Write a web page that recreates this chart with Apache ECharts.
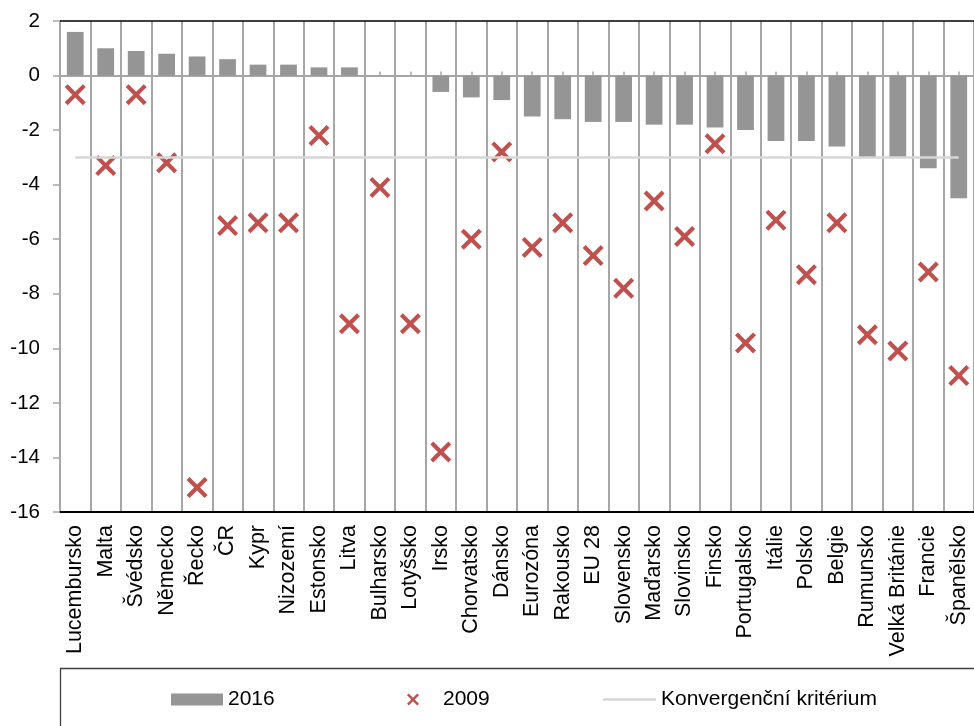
<!DOCTYPE html>
<html>
<head>
<meta charset="utf-8">
<script src="https://cdn.jsdelivr.net/npm/echarts@6/dist/echarts.min.js"></script>
<style>
html,body{margin:0;padding:0;background:#fff;}
#chart{width:974px;height:726px;}
</style>
</head>
<body>
<div id="chart"></div>
<script>
const categories = ['Lucembursko','Malta','Švédsko','Německo','Řecko','ČR','Kypr','Nizozemí','Estonsko','Litva','Bulharsko','Lotyšsko','Irsko','Chorvatsko','Dánsko','Eurozóna','Rakousko','EU 28','Slovensko','Maďarsko','Slovinsko','Finsko','Portugalsko','Itálie','Polsko','Belgie','Rumunsko','Velká Británie','Francie','Španělsko'];
const values2016 = [1.6,1.0,0.9,0.8,0.7,0.6,0.4,0.4,0.3,0.3,0.0,0.0,-0.6,-0.8,-0.9,-1.5,-1.6,-1.7,-1.7,-1.8,-1.8,-1.9,-2.0,-2.4,-2.4,-2.6,-3.0,-3.0,-3.4,-4.5];
const values2009 = [-0.7,-3.3,-0.7,-3.2,-15.1,-5.5,-5.4,-5.4,-2.2,-9.1,-4.1,-9.1,-13.8,-6.0,-2.8,-6.3,-5.4,-6.6,-7.8,-4.6,-5.9,-2.5,-9.8,-5.3,-7.3,-5.4,-9.5,-10.1,-7.2,-11.0];
const criterion = [-3,-3,-3,-3,-3,-3,-3,-3,-3,-3,-3,-3,-3,-3,-3,-3,-3,-3,-3,-3,-3,-3,-3,-3,-3,-3,-3,-3,-3,-3];
const seriesNames = ['2016','2009','Konvergenční kritérium'];
const yMin = -16, yMax = 2, yStep = 2;

const FONT = "'Liberation Sans', Arial, sans-serif";
const GRID_GRAY = '#a6a6a6';
const xPath = 'path://M0,14 L14,0 L50,36 L86,0 L100,14 L64,50 L100,86 L86,100 L50,64 L14,100 L0,86 L36,50 Z';

const chart = echarts.init(document.getElementById('chart'), null, {renderer: 'canvas'});
chart.setOption({
  animation: false,
  backgroundColor: '#ffffff',
  textStyle: {fontFamily: FONT},
  grid: {left: 60, right: -4, top: 21, bottom: 214, containLabel: false},
  graphic: [{
    type: 'rect', left: 58, top: 666, silent: true,
    shape: {width: 1000, height: 100},
    style: {fill: 'none', stroke: '#404040', lineWidth: 1.3}
  }],
  legend: [
    {data: [seriesNames[0]], left: 171, top: 689, padding: 0, itemWidth: 52, itemHeight: 12,
     icon: 'rect', textStyle: {fontSize: 21, color: '#000', fontFamily: FONT}},
    {data: [seriesNames[1]], left: 407, top: 689, padding: 0, itemWidth: 12, itemHeight: 12,
     textStyle: {fontSize: 21, color: '#000', fontFamily: FONT, padding: [0,0,0,19]}},
    {data: [{name: seriesNames[2], icon: 'rect'}], left: 603, top: 689, padding: 0, itemWidth: 53, itemHeight: 2.5,
     textStyle: {fontSize: 21, color: '#000', fontFamily: FONT}}
  ],
  xAxis: [
    {
      type: 'category', data: categories, position: 'bottom',
      axisLine: {onZero: false, lineStyle: {color: '#000', width: 2}},
      axisTick: {show: false},
      axisLabel: {interval: 0, rotate: 90, margin: 13, fontSize: 21.5, color: '#000', fontFamily: FONT},
      splitLine: {show: true, interval: 0, lineStyle: {color: GRID_GRAY, width: 2}}
    },
    {
      type: 'category', data: categories, position: 'top',
      axisLine: {onZero: true, lineStyle: {color: GRID_GRAY, width: 2}},
      axisTick: {show: true, alignWithLabel: true, length: 4, interval: 0, lineStyle: {color: GRID_GRAY, width: 1.5}},
      axisLabel: {show: false},
      splitLine: {show: false}
    }
  ],
  yAxis: {
    type: 'value', min: yMin, max: yMax, interval: yStep,
    axisLine: {show: true, lineStyle: {color: GRID_GRAY, width: 2}},
    axisTick: {show: true, length: 7, lineStyle: {color: GRID_GRAY, width: 1.5}},
    axisLabel: {fontSize: 20.5, color: '#000', margin: 20, fontFamily: FONT},
    splitLine: {show: false}
  },
  series: [
    {
      name: seriesNames[0], type: 'bar', data: values2016, xAxisIndex: 0,
      barWidth: '55%', itemStyle: {color: '#959595'},
      markLine: {
        silent: true, symbol: ['none','none'], label: {show: false},
        lineStyle: {color: '#000', width: 1.5, type: 'solid'},
        data: [{yAxis: yMax}]
      }
    },
    {
      name: seriesNames[2], type: 'line', data: criterion, xAxisIndex: 0,
      symbol: 'none', showSymbol: false, lineStyle: {color: '#d6d6d6', width: 2.5}, itemStyle: {color: '#d6d6d6'}
    },
    {
      name: seriesNames[1], type: 'scatter', data: values2009, xAxisIndex: 0,
      symbol: xPath, symbolSize: 21, itemStyle: {color: '#c0504d', opacity: 1}
    }
  ]
});
</script>
</body>
</html>
